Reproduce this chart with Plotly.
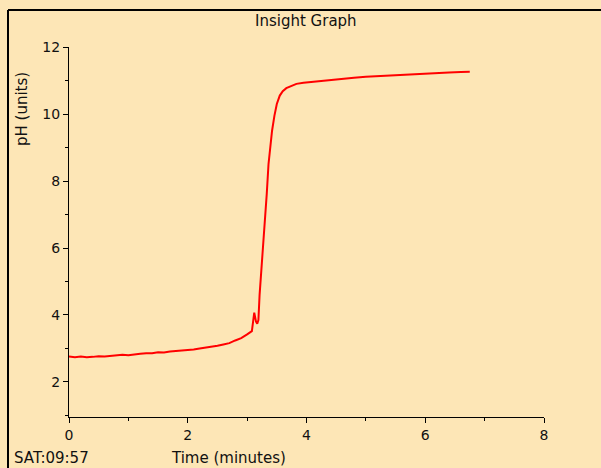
import plotly.graph_objects as go

time_min = [0.0, 0.1, 0.2, 0.3, 0.4, 0.5, 0.6, 0.7, 0.8, 0.9, 1.0, 1.1, 1.2, 1.3, 1.4,
            1.5, 1.6, 1.7, 1.8, 1.9, 2.0, 2.1, 2.2, 2.3, 2.4, 2.5, 2.6, 2.7, 2.8, 2.9,
            3.0, 3.05, 3.08, 3.12, 3.15, 3.17, 3.19, 3.21, 3.23, 3.25, 3.27, 3.30, 3.33,
            3.36, 3.39, 3.42, 3.46, 3.50, 3.55, 3.60, 3.66, 3.75, 3.83, 3.95, 4.1, 4.25,
            4.4, 4.6, 4.8, 5.0, 5.2, 5.4, 5.6, 5.8, 6.0, 6.2, 6.4, 6.6, 6.75]
ph_units = [2.76, 2.74, 2.76, 2.74, 2.75, 2.77, 2.76, 2.78, 2.79, 2.81, 2.80, 2.83, 2.84,
            2.86, 2.86, 2.89, 2.88, 2.91, 2.92, 2.94, 2.94, 2.97, 3.00, 3.02, 3.05, 3.08,
            3.12, 3.16, 3.24, 3.31, 3.42, 3.50, 3.52, 4.07, 3.80, 3.74, 3.85, 4.6, 5.1,
            5.3, 5.9, 6.8, 7.6, 8.5, 9.1, 9.5, 9.95, 10.3, 10.55, 10.68, 10.77, 10.84,
            10.90, 10.93, 10.96, 10.99, 11.01, 11.05, 11.08, 11.11, 11.13, 11.15, 11.18,
            11.19, 11.21, 11.22, 11.24, 11.25, 11.26]

x_ticks = [0, 2, 4, 6, 8]
y_ticks = [2, 4, 6, 8, 10, 12]

BG = "#FDE6B6"
FONT = "DejaVu Sans"

fig = go.Figure(go.Scatter(x=time_min, y=ph_units, mode="lines",
                           line=dict(color="#FF0000", width=2), hoverinfo="skip"))

L, R, T, B = 69, 57, 47, 51
W, H = 601, 468
pw, ph = W - L - R, H - T - B

def px(x):
    return (x - L) / pw

def py(y):
    return (H - B - y) / ph

fig.update_layout(
    width=W, height=H, margin=dict(l=L, r=R, t=T, b=B),
    paper_bgcolor=BG, plot_bgcolor=BG, showlegend=False,
    font=dict(family=FONT, size=14, color="#111111"),
    xaxis=dict(range=[0, 8], tickvals=x_ticks, showgrid=False, zeroline=False,
               showline=True, linecolor="black", linewidth=1,
               ticks="outside", ticklen=5, tickcolor="black",
               minor=dict(dtick=1, ticks="outside", ticklen=3, tickcolor="black"),
               tickfont=dict(size=14)),
    yaxis=dict(range=[0.955, 12], tickvals=y_ticks, showgrid=False, zeroline=False,
               showline=True, linecolor="black", linewidth=1,
               ticks="outside", ticklen=5, tickcolor="black",
               minor=dict(dtick=1, ticks="outside", ticklen=3, tickcolor="black"),
               tickfont=dict(size=14)),
    shapes=[
        dict(type="line", xref="paper", yref="paper", x0=px(8), x1=px(8),
             y0=py(10), y1=py(480), line=dict(color="black", width=2)),
        dict(type="line", xref="paper", yref="paper", x0=px(8), x1=px(610),
             y0=py(10), y1=py(10), line=dict(color="black", width=2)),
    ],
    annotations=[
        dict(text="Insight Graph", xref="paper", yref="paper", x=px(306), y=py(21),
             xanchor="center", yanchor="middle", showarrow=False, font=dict(size=15)),
        dict(text="SAT:09:57", xref="paper", yref="paper", x=px(12), y=py(458),
             xanchor="left", yanchor="middle", showarrow=False, font=dict(size=15)),
        dict(text="Time (minutes)", xref="paper", yref="paper", x=px(228), y=py(458),
             xanchor="center", yanchor="middle", showarrow=False, font=dict(size=15)),
        dict(text="pH (units)", xref="paper", yref="paper", x=px(22), y=py(109),
             xanchor="center", yanchor="middle", textangle=-90, showarrow=False,
             font=dict(size=15)),
    ],
)

fig.write_html(
    "out.html",
    config={"displayModeBar": False},
    post_script="document.body.style.margin='0';document.body.style.background='" + BG + "';",
)
